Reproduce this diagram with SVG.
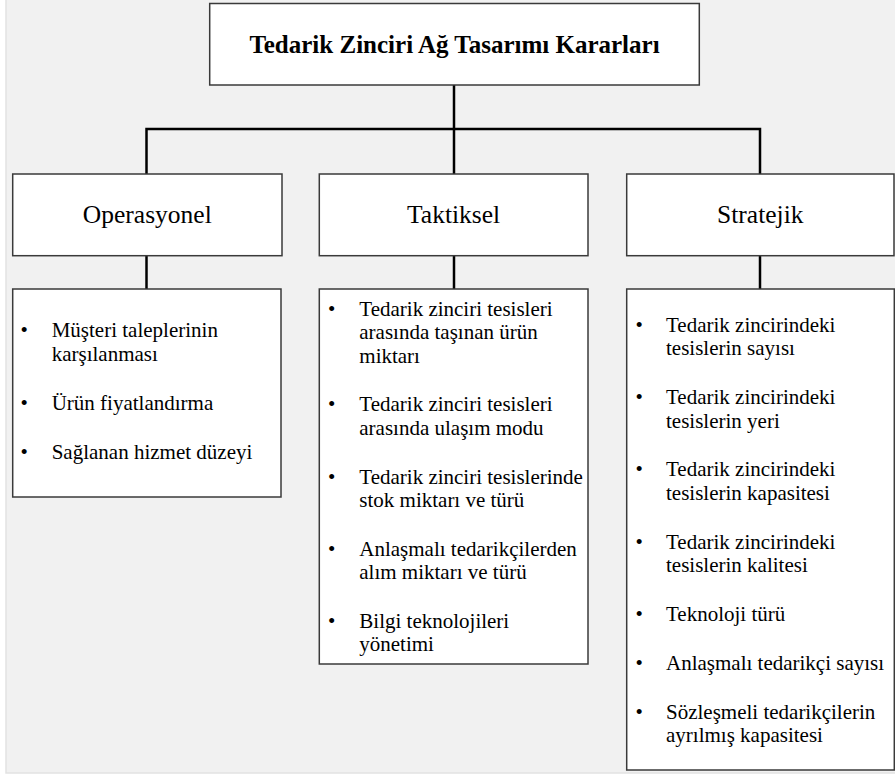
<svg xmlns="http://www.w3.org/2000/svg" width="895" height="778" viewBox="0 0 895 778">
  <style>
    .box { fill: #ffffff; stroke: #3a3a3a; stroke-width: 1.5; }
    .link { fill: none; stroke: #000000; stroke-width: 2.5; }
    text { font-family: 'Liberation Serif', 'DejaVu Serif', serif; fill: #000; }
    .title { font-size: 25px; font-weight: bold; text-anchor: middle; }
    .head { font-size: 25.5px; text-anchor: middle; }
    .item { font-size: 21px; }
  </style>

  <!-- page background -->
  <rect x="0" y="0" width="895" height="778" fill="#ffffff"/>
  <rect x="6" y="-1" width="890" height="774" fill="#f1f1f1" stroke="#e2e2e2" stroke-width="1.5"/>

  <!-- connectors -->
  <g id="connectors">
    <path class="link" d="M454 85 V129"/>
    <path class="link" d="M146.5 174 V129 H760 V174"/>
    <path class="link" d="M454 129 V174"/>
    <path class="link" d="M146.5 256 V289"/>
    <path class="link" d="M454 256 V289"/>
    <path class="link" d="M760 256 V289"/>
  </g>

  <g id="root">
    <rect class="box" x="209.7" y="3.5" width="489.6" height="81.5"/>
    <text class="title" x="454.5" y="53" font-family="Liberation Serif, serif">Tedarik Zinciri Ağ Tasarımı Kararları</text>
  </g>

  <g id="operasyonel">
    <rect class="box" x="12.7" y="174" width="269.3" height="81.7"/>
    <text class="head" x="147.3" y="223">Operasyonel</text>
  </g>

  <g id="taktiksel">
    <rect class="box" x="319.3" y="174" width="268.7" height="81.7"/>
    <text class="head" x="453.6" y="223">Taktiksel</text>
  </g>

  <g id="stratejik">
    <rect class="box" x="626.7" y="174" width="267.3" height="81.7"/>
    <text class="head" x="760.3" y="223">Stratejik</text>
  </g>

  <g id="operasyonel-list">
    <rect class="box" x="12.7" y="289" width="268.3" height="208"/>
    <text class="item">
      <tspan x="20.6" y="337.3">•</tspan>
      <tspan x="51.7" y="337.3">Müşteri taleplerinin</tspan>
      <tspan x="51.7" y="361">karşılanması</tspan>
      <tspan x="20.6" y="410.3">•</tspan>
      <tspan x="51.7" y="410.3">Ürün fiyatlandırma</tspan>
      <tspan x="20.6" y="459.3">•</tspan>
      <tspan x="51.7" y="459.3">Sağlanan hizmet düzeyi</tspan>
    </text>
  </g>

  <g id="taktiksel-list">
    <rect class="box" x="319.3" y="289" width="268.7" height="375"/>
    <text class="item">
      <tspan x="328" y="316">•</tspan>
      <tspan x="359.3" y="316">Tedarik zinciri tesisleri</tspan>
      <tspan x="359.3" y="339.3">arasında taşınan ürün</tspan>
      <tspan x="359.3" y="362.6">miktarı</tspan>
      <tspan x="328" y="411.4">•</tspan>
      <tspan x="359.3" y="411.4">Tedarik zinciri tesisleri</tspan>
      <tspan x="359.3" y="434.7">arasında ulaşım modu</tspan>
      <tspan x="328" y="483.5">•</tspan>
      <tspan x="359.3" y="483.5">Tedarik zinciri tesislerinde</tspan>
      <tspan x="359.3" y="506.8">stok miktarı ve türü</tspan>
      <tspan x="328" y="555.6">•</tspan>
      <tspan x="359.3" y="555.6">Anlaşmalı tedarikçilerden</tspan>
      <tspan x="359.3" y="578.9">alım miktarı ve türü</tspan>
      <tspan x="328" y="627.7">•</tspan>
      <tspan x="359.3" y="627.7">Bilgi teknolojileri</tspan>
      <tspan x="359.3" y="651">yönetimi</tspan>
    </text>
  </g>

  <g id="stratejik-list">
    <rect class="box" x="626.7" y="289" width="267.6" height="481"/>
    <text class="item">
      <tspan x="635.6" y="331.7">•</tspan>
      <tspan x="666" y="331.7">Tedarik zincirindeki</tspan>
      <tspan x="666" y="355.2">tesislerin sayısı</tspan>
      <tspan x="635.6" y="404">•</tspan>
      <tspan x="666" y="404">Tedarik zincirindeki</tspan>
      <tspan x="666" y="427.5">tesislerin yeri</tspan>
      <tspan x="635.6" y="476">•</tspan>
      <tspan x="666" y="476">Tedarik zincirindeki</tspan>
      <tspan x="666" y="499.5">tesislerin kapasitesi</tspan>
      <tspan x="635.6" y="548.5">•</tspan>
      <tspan x="666" y="548.5">Tedarik zincirindeki</tspan>
      <tspan x="666" y="572">tesislerin kalitesi</tspan>
      <tspan x="635.6" y="621">•</tspan>
      <tspan x="666" y="621">Teknoloji türü</tspan>
      <tspan x="635.6" y="670">•</tspan>
      <tspan x="666" y="670">Anlaşmalı tedarikçi sayısı</tspan>
      <tspan x="635.6" y="718.5">•</tspan>
      <tspan x="666" y="718.5">Sözleşmeli tedarikçilerin</tspan>
      <tspan x="666" y="742">ayrılmış kapasitesi</tspan>
    </text>
  </g>
</svg>
